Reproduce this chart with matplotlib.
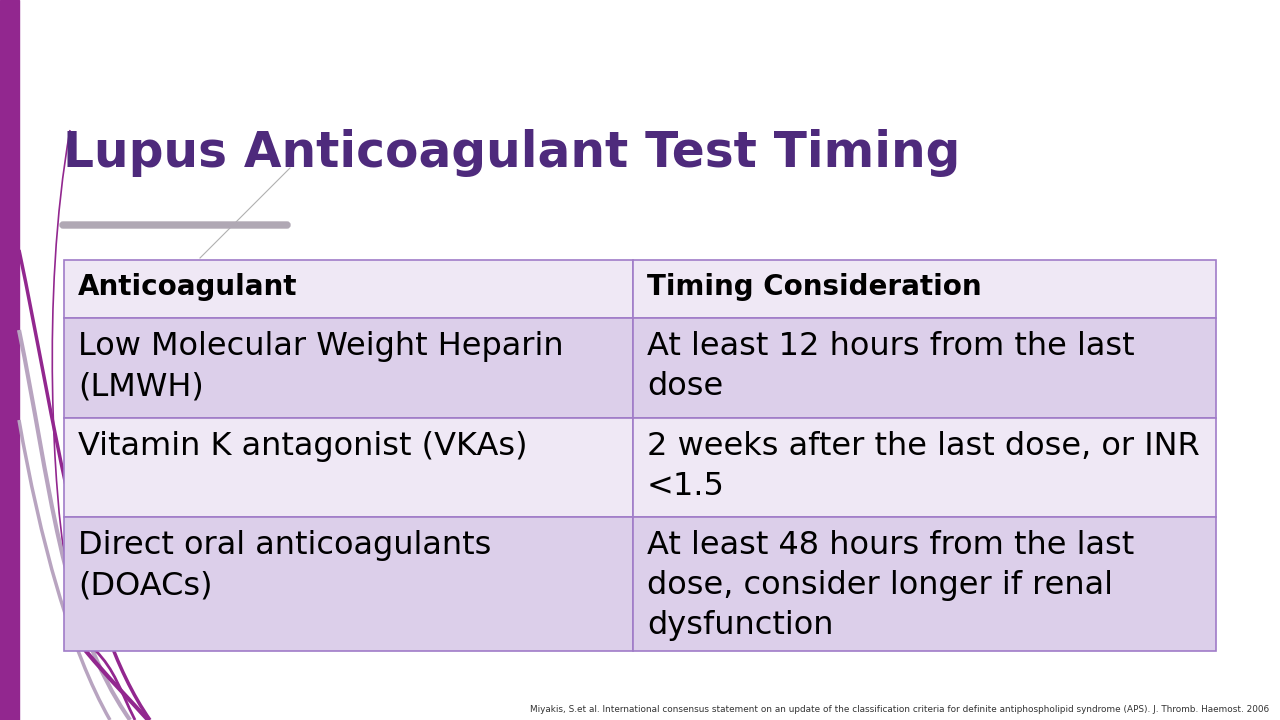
import matplotlib
matplotlib.use("Agg")
import matplotlib.pyplot as plt
from matplotlib.patches import Rectangle, FancyBboxPatch, PathPatch
from matplotlib.path import Path
import numpy as np

title = "Lupus Anticoagulant Test Timing"
headers = ["Anticoagulant", "Timing Consideration"]
col1 = ["Low Molecular Weight Heparin\n(LMWH)", "Vitamin K antagonist (VKAs)", "Direct oral anticoagulants\n(DOACs)"]
col2 = ["At least 12 hours from the last\ndose", "2 weeks after the last dose, or INR\n<1.5",
        "At least 48 hours from the last\ndose, consider longer if renal\ndysfunction"]
footnote = ("Miyakis, S.et al. International consensus statement on an update of the classification "
            "criteria for definite antiphospholipid syndrome (APS). J. Thromb. Haemost. 2006")

fig = plt.figure(figsize=(12.8, 7.2), dpi=100)
ax = fig.add_axes([0, 0, 1, 1])
ax.set_xlim(0, 1280); ax.set_ylim(720, 0); ax.axis("off")

# left bar
ax.add_patch(Rectangle((0, 0), 19, 720, color="#92278f", zorder=1))

def curve(p0, p1, p2, p3, color, lw):
    path = Path([p0, p1, p2, p3], [Path.MOVETO, Path.CURVE4, Path.CURVE4, Path.CURVE4])
    ax.add_patch(PathPatch(path, fill=False, edgecolor=color, lw=lw, zorder=2))

curve((70, 130), (40, 300), (55, 500), (65, 560), "#92278f", 1.2)
curve((19, 250), (55, 420), (80, 620), (150, 720), "#92278f", 2.5)
curve((19, 330), (50, 480), (60, 620), (130, 720), "#b8a4c0", 3)
curve((19, 420), (40, 540), (70, 650), (110, 720), "#b8a4c0", 2.5)
curve((85, 650), (110, 680), (130, 700), (148, 720), "#92278f", 3)
curve((95, 650), (115, 670), (120, 690), (135, 720), "#92278f", 2)
ax.plot([200, 290], [258, 168], color="#b0b0b0", lw=0.8, zorder=2)

# title
ax.text(63, 153, title, fontsize=35, fontweight="bold", color="#4e2a7c",
        va="center", ha="left", family="DejaVu Sans", zorder=3)
ax.add_patch(FancyBboxPatch((60, 222), 230, 6, boxstyle="round,pad=0,rounding_size=3",
                            color="#b0a8b4", zorder=3))

# table
xs = [64, 633, 1216]
ys = [260, 318, 418, 517, 651]
fills = ["#efe8f5", "#dccfea", "#efe8f5", "#dccfea"]
border = "#a07cc8"
rows = [headers] + [[a, b] for a, b in zip(col1, col2)]
for r, row in enumerate(rows):
    for c in range(2):
        ax.add_patch(Rectangle((xs[c], ys[r]), xs[c + 1] - xs[c], ys[r + 1] - ys[r],
                               facecolor=fills[r], edgecolor=border, lw=1.2, zorder=4))
        ax.text(xs[c] + 14, ys[r] + 13, row[c], fontsize=23 if r else 20,
                fontweight="bold" if r == 0 else "normal", color="black",
                va="top", ha="left", linespacing=1.38, family="DejaVu Sans", zorder=5)

ax.text(1269, 710, footnote, fontsize=6.4, ha="right", va="center", color="#333333", zorder=5)

fig.savefig("out.png", dpi=100)
